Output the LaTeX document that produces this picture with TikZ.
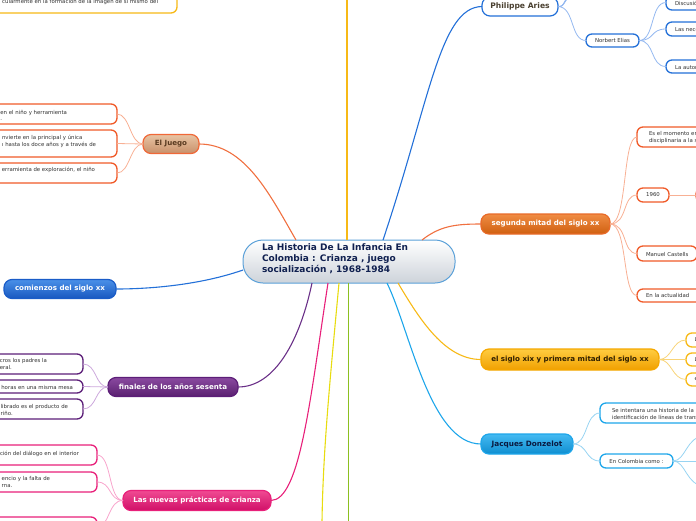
\documentclass[tikz,border=0pt]{standalone}
\usepackage{fontspec}
\setmainfont{DejaVu Sans}
\definecolor{golden}{HTML}{F7B916}
\definecolor{ejborder}{HTML}{F06838}
\definecolor{ejtop}{HTML}{E8C4A4}
\definecolor{ejbot}{HTML}{C8906A}
\definecolor{ejtext}{HTML}{5A3A20}
\definecolor{orline}{HTML}{F07040}
\definecolor{orlight}{HTML}{F8B094}
\definecolor{orbox}{HTML}{F05A28}
\definecolor{blueA}{HTML}{2370D8}
\definecolor{blueL}{HTML}{94B8F0}
\definecolor{comborder}{HTML}{1A5CC8}
\definecolor{comtop}{HTML}{4A90E8}
\definecolor{combot}{HTML}{1858C0}
\definecolor{purp}{HTML}{5C1E78}
\definecolor{purptop}{HTML}{8A4AA0}
\definecolor{purpbot}{HTML}{5A2070}
\definecolor{purpline}{HTML}{6A3088}
\definecolor{purpL}{HTML}{CCA8DC}
\definecolor{pink}{HTML}{E8207A}
\definecolor{pinktop}{HTML}{F04A92}
\definecolor{pinkbot}{HTML}{D01068}
\definecolor{pinkL}{HTML}{F8A4CC}
\definecolor{yel2}{HTML}{E8DC10}
\definecolor{green2}{HTML}{8CC020}
\definecolor{cyan2}{HTML}{1EA6EA}
\definecolor{cyantop}{HTML}{44BAF2}
\definecolor{cyanbot}{HTML}{0F8ED0}
\definecolor{cyanL}{HTML}{98D4F2}
\definecolor{jdtext}{HTML}{0A1A40}
\definecolor{yelL}{HTML}{F8D478}
\definecolor{sxborder}{HTML}{F5A800}
\definecolor{sxtop}{HTML}{FFCC40}
\definecolor{sxbot}{HTML}{F0A000}
\definecolor{sxtext}{HTML}{302000}
\definecolor{smborder}{HTML}{E86A28}
\definecolor{smtop}{HTML}{F08C44}
\definecolor{smbot}{HTML}{CF6010}
\definecolor{patext}{HTML}{4A4030}
\definecolor{rootborder}{HTML}{5AA0D8}
\definecolor{rootbot}{HTML}{CDD3DA}
\definecolor{navy}{HTML}{102050}
\definecolor{txt}{HTML}{333333}
\begin{document}
\begin{tikzpicture}[x=1pt,y=-1pt,
  every node/.style={inner sep=0pt, outer sep=0pt},
  topic/.style={rounded corners=8pt, line width=1.2pt, font=\fontsize{7.1}{8}\selectfont\bfseries},
  child/.style={draw=#1, fill=white, rounded corners=6pt, line width=1.3pt},
  ctext/.style={font=\fontsize{5.4}{6.8}\selectfont, text=txt, align=left},
  conn/.style={line width=1.1pt},
  lconn/.style={line width=0.8pt}
]
\useasboundingbox (0,0) rectangle (696,520);

% ---------- root ----------
\node[draw=rootborder, line width=1pt, top color=white, bottom color=rootbot, rounded corners=20pt,
      minimum width=212pt, minimum height=43pt] (root) at (349,261.5) {};
\node[anchor=north west, align=left, font=\fontsize{9}{11}\selectfont\bfseries, text=navy] (roott) at (262,244)
  {La Historia De La Infancia En\\Colombia : Crianza , juego\\socialización , 1968-1984};

\coordinate (rt1) at (296,240);
\coordinate (rt2) at (347,240);
\coordinate (rt3) at (383,240);
\coordinate (rt4) at (422,240);
\coordinate (rl) at (243,270);
\coordinate (rb1) at (312,283);
\coordinate (rb2) at (328,283);
\coordinate (rb3) at (339,283);
\coordinate (rb4) at (348.5,283);
\coordinate (rb5) at (387,283);
\coordinate (rb6) at (398,283);
\coordinate (topY) at (347,-2);
\coordinate (botY) at (322,522);
\coordinate (botG) at (348.5,522);

% ---------- top-left yellow box ----------
\node[child=golden, minimum width=200pt, minimum height=28pt] (tl) at (77,-1) {};
\node[ctext, anchor=east] (tlt) at (158,2) {cularmente en la formación de la imagen de sí mismo del};

% ---------- El Juego ----------
\node[topic, draw=ejborder, top color=ejtop, bottom color=ejbot, text=ejtext,
      minimum width=56pt, minimum height=19pt] (ej) at (171,144) {El Juego};
\node[child=orbox, minimum width=150pt, minimum height=20pt] (ej1) at (42,114) {};
\node[child=orbox, minimum width=150pt, minimum height=27pt] (ej2) at (42,143.5) {};
\node[child=orbox, minimum width=150pt, minimum height=20pt] (ej3) at (42,173) {};
\node[ctext, anchor=east] (ej1t) at (67,115.3) {en el niño y herramienta\\.};
\node[ctext, anchor=east] (ej2t) at (96,141.3) {nvierte en la principal y única\\ı hasta los doce años y a través de};
\node[ctext, anchor=east] (ej3t) at (95,170) {erramienta de exploración, el niño};
\draw[orline, conn] (rt1) .. controls (270,195) and (245,144) .. (ej.east);
\draw[orlight, lconn] (ej.west) .. controls (130,144) and (130,114) .. (ej1.east);
\draw[orlight, lconn] (ej.west) -- (ej2.east);
\draw[orlight, lconn] (ej.west) .. controls (130,144) and (130,173) .. (ej3.east);

% ---------- yellow vertical ----------
\draw[golden, conn] (rt2) -- (topY);

% ---------- comienzos ----------
\node[topic, draw=comborder, top color=comtop, bottom color=combot, text=white,
      minimum width=112pt, minimum height=19pt] (com) at (60,289) {comienzos del siglo xx};
\draw[blueA, conn] (rl) .. controls (200,285) and (150,289) .. (com.east);

% ---------- finales ----------
\node[topic, draw=purp, top color=purptop, bottom color=purpbot, text=white,
      minimum width=130pt, minimum height=19pt] (fin) at (173,387) {finales de los años sesenta};
\node[child=purp, minimum width=116pt, minimum height=20pt] (fi1) at (25,364) {};
\node[child=purp, minimum width=116pt, minimum height=13pt] (fi2) at (25,386.5) {};
\node[child=purp, minimum width=116pt, minimum height=20pt] (fi3) at (25,409) {};
\node[ctext, anchor=east] (fi1t) at (47,364.3) {cros los padres la\\eral.};
\node[ctext, anchor=east] (fi2t) at (73,387) {horas en una misma mesa};
\node[ctext, anchor=east] (fi3t) at (68,410.3) {librado es el producto de\\riño.};
\draw[purpline, conn] (rb1) .. controls (300,340) and (275,387) .. (fin.east);
\draw[purpL, lconn] (fin.west) .. controls (95,387) and (97,364) .. (fi1.east);
\draw[purpL, lconn] (fin.west) -- (fi2.east);
\draw[purpL, lconn] (fin.west) .. controls (95,387) and (97,409) .. (fi3.east);

% ---------- nuevas practicas ----------
\node[topic, draw=pink, top color=pinktop, bottom color=pinkbot, text=white,
      minimum width=148pt, minimum height=20pt] (np) at (197,500.5) {Las nuevas prácticas de crianza};
\node[child=pink, minimum width=130pt, minimum height=20pt] (np1) at (32,455) {};
\node[child=pink, minimum width=130pt, minimum height=20pt] (np2) at (32,482) {};
\node[child=pink, minimum width=130pt, minimum height=20pt] (np3) at (32,527) {};
\node[ctext, anchor=east] (np1t) at (79,453.5) {ción del diálogo en el interior};
\node[ctext, anchor=east] (np2t) at (50,482.3) {encio y la falta de\\rna.};
\draw[pink, conn] (rb2) .. controls (310,400) and (300,500) .. (np.east);
\draw[pinkL, lconn] (np.west) .. controls (108,500) and (112,455) .. (np1.east);
\draw[pinkL, lconn] (np.west) .. controls (108,500) and (112,482) .. (np2.east);
\draw[pinkL, lconn] (np.west) .. controls (108,500) and (110,527) .. (np3.east);

% ---------- yellow2 and green ----------
\draw[yel2, conn] (rb3) .. controls (330,380) and (323,450) .. (botY);
\draw[green2, conn] (rb4) -- (botG);

% ---------- Philippe Aries ----------
\node[topic, draw=blueA, fill=white, text=patext, minimum width=76pt, minimum height=19pt,
      font=\fontsize{7.6}{8}\selectfont\bfseries] (pa) at (520,6.5) {Philippe Aries};
\draw[blueA, conn] (rt3) .. controls (430,100) and (440,7) .. (pa.west);
\coordinate (pu1) at (570,-4);
\coordinate (pu2) at (574,-8);
\coordinate (pu3) at (578,-12);
\draw[blueL, lconn] (pa.east) .. controls (566,7) and (562,0) .. (pu1);
\draw[blueL, lconn] (pa.east) .. controls (566,7) and (562,0) .. (pu2);
\draw[blueL, lconn] (pa.east) .. controls (566,7) and (562,0) .. (pu3);
\node[child=blueA, minimum width=53pt, minimum height=13pt, font=\fontsize{5.4}{6}\selectfont, text=txt] (ne) at (612.5,40.5) {Norbert Elias};
\draw[blueL, lconn] (pa.east) .. controls (575,7) and (570,40.5) .. (ne.west);
\node[child=blueA, minimum width=60pt, minimum height=15pt] (ne1) at (696,2.5) {};
\node[child=blueA, minimum width=60pt, minimum height=14pt] (ne2) at (696,29) {};
\node[child=blueA, minimum width=60pt, minimum height=13pt] (ne3) at (696,66.5) {};
\node[ctext, anchor=west] (ne1t) at (675,3) {Discusión};
\node[ctext, anchor=west] (ne2t) at (675,29) {Las necesidades};
\node[ctext, anchor=west] (ne3t) at (675,67) {La autoridad};
\draw[blueL, lconn] (ne.east) .. controls (655,40.5) and (650,2.5) .. (ne1.west);
\draw[blueL, lconn] (ne.east) .. controls (655,40.5) and (650,29) .. (ne2.west);
\draw[blueL, lconn] (ne.east) .. controls (655,40.5) and (650,66.5) .. (ne3.west);

% ---------- segunda mitad ----------
\node[topic, draw=smborder, top color=smtop, bottom color=smbot, text=white,
      minimum width=129pt, minimum height=20pt] (sm) at (545.5,224) {segunda mitad del siglo xx};
\draw[orline, conn] (rt4) .. controls (440,226) and (455,224) .. (sm.west);
\node[child=orbox, minimum width=90pt, minimum height=20pt] (sm1) at (682,137) {};
\node[child=orbox, minimum width=32pt, minimum height=14pt, font=\fontsize{5.4}{6}\selectfont, text=txt] (sm2) at (653,195) {1960};
\node[child=orbox, minimum width=60pt, minimum height=15pt] (sm3) at (667,253.5) {};
\node[child=orbox, minimum width=90pt, minimum height=13pt] (sm4) at (682,295.5) {};
\node[child=orbox, minimum width=60pt, minimum height=14pt] (sm5) at (726,195) {};
\node[ctext, anchor=west] (sm1t) at (649,137.8) {Es el momento en\\disciplinaria a la so};
\node[ctext, anchor=west] (sm3t) at (646,254) {Manuel Castells};
\node[ctext, anchor=west] (sm4t) at (646,295.5) {En la actualidad};
\draw[orlight, lconn] (sm.east) .. controls (628,224) and (622,137) .. (sm1.west);
\draw[orlight, lconn] (sm.east) .. controls (628,224) and (622,195) .. (sm2.west);
\draw[orlight, lconn] (sm.east) .. controls (628,224) and (622,253.5) .. (sm3.west);
\draw[orlight, lconn] (sm.east) .. controls (628,224) and (622,295.5) .. (sm4.west);
\draw[orlight, lconn] (sm2.east) -- (sm5.west);

% ---------- siglo xix ----------
\node[topic, draw=sxborder, top color=sxtop, bottom color=sxbot, text=sxtext,
      minimum width=178pt, minimum height=21pt] (sx) at (570,359.5) {el siglo xix y primera mitad del siglo xx};
\draw[golden, conn] (rb6) .. controls (420,320) and (445,359.5) .. (sx.west);
\node[child=golden, minimum width=60pt, minimum height=14pt] (sx1) at (716,340) {};
\node[child=golden, minimum width=60pt, minimum height=13pt] (sx2) at (716,359.5) {};
\node[child=golden, minimum width=60pt, minimum height=13pt] (sx3) at (716,379.5) {};
\node[ctext, anchor=west] (sx1t) at (694.5,340) {La};
\node[ctext, anchor=west] (sx2t) at (694.5,359.5) {La};
\node[ctext, anchor=west] (sx3t) at (694.5,379.5) {en};
\draw[yelL, lconn] (sx.east) .. controls (672,359.5) and (672,340) .. (sx1.west);
\draw[yelL, lconn] (sx.east) -- (sx2.west);
\draw[yelL, lconn] (sx.east) .. controls (672,359.5) and (672,379.5) .. (sx3.west);

% ---------- Jacques Donzelot ----------
\node[topic, draw=cyan2, top color=cyantop, bottom color=cyanbot, text=jdtext,
      minimum width=92pt, minimum height=20pt, font=\fontsize{7.3}{8}\selectfont\bfseries] (jd) at (527,444) {Jacques Donzelot};
\draw[cyan2, conn] (rb5) .. controls (410,330) and (430,444) .. (jd.west);
\node[child=cyan2, minimum width=160pt, minimum height=20pt] (jd1) at (680,413) {};
\node[child=cyan2, minimum width=73pt, minimum height=14pt, font=\fontsize{5.4}{6}\selectfont, text=txt] (jd2) at (636.5,461) {En Colombia como :};
\node[ctext, anchor=west] (jd1t) at (612,413.8) {Se intentara una historia de la\\identificación de líneas de trans};
\draw[cyanL, lconn] (jd.east) .. controls (588,444) and (585,413) .. (jd1.west);
\draw[cyanL, lconn] (jd.east) .. controls (588,444) and (585,461) .. (jd2.west);
\coordinate (ec1) at (705,436);
\coordinate (ec2) at (705,461);
\coordinate (ec3) at (705,486);
\draw[cyanL, lconn] (jd2.east) .. controls (686,461) and (686,436) .. (ec1);
\draw[cyanL, lconn] (jd2.east) -- (ec2);
\draw[cyanL, lconn] (jd2.east) .. controls (686,461) and (686,486) .. (ec3);
\end{tikzpicture}
\end{document}
